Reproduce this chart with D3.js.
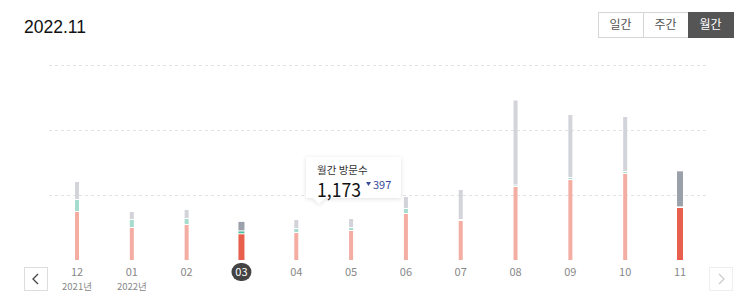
<!DOCTYPE html>
<html><head><meta charset="utf-8">
<script src="https://cdn.jsdelivr.net/npm/d3@7"></script>
<style>
html,body{margin:0;padding:0;background:#fff;}
svg{display:block;}
</style></head>
<body>
<svg id="chart" width="750" height="292"></svg>
<script>
const months = ["12","01","02","03","04","05","06","07","08","09","10","11"];
const yearLabels = {"12":"2021년","01":"2022년"};
const searchVisits = [1477, 985, 1077, 790, 830, 892, 1415, 1200, 2246, 2462, 2646, 1600];
const snsVisits    = [369, 246, 185, 90, 123, 92, 154, 31, 46, 62, 62, 20];
const otherVisits  = [554, 246, 277, 293, 277, 277, 369, 923, 2615, 1938, 1692, 1108];
const gridValues = [2000, 4000, 6000];
const highlighted = ["03","11"];
const selectedMonth = "03";
const tooltipValue = "1,173";
const tooltipDiff = "397";

const svg = d3.select("#chart");
const x = d3.scalePoint().domain(months).range([77, 680]);
const y = d3.scaleLinear().domain([0, 6000]).range([260, 65]);

// title
svg.append("text").attr("x",24).attr("y",33).attr("font-family","Liberation Sans, Arial, sans-serif")
  .attr("font-size",17.5).attr("fill","#111").text("2022.11");

// buttons
const btns = ["일간","주간","월간"];
btns.forEach((b,i)=>{
  const bx = 598 + i*45;
  svg.append("rect").attr("x",bx+0.5).attr("y",12.5).attr("width",45).attr("height",25)
    .attr("fill", i===2?"#555":"#fff").attr("stroke", i===2?"#555":"#d5d5d5");
  svg.append("text").attr("x",bx+22.5).attr("y",29).attr("text-anchor","middle")
    .attr("font-family","Noto Sans CJK KR, sans-serif").attr("font-size",12)
    .attr("fill", i===2?"#fff":"#555").text(b);
});

// gridlines
svg.append("g").selectAll("line").data(gridValues).join("line")
  .attr("x1",49).attr("x2",707).attr("y1",d=>Math.round(y(d))+0.5).attr("y2",d=>Math.round(y(d))+0.5)
  .attr("stroke","#e2e2e2").attr("stroke-width",1).attr("stroke-dasharray","3,3");

// bars
const data = months.map((m,i)=>({m, s:searchVisits[i], n:snsVisits[i], o:otherVisits[i]}));
const colors = {
  normal:{s:"#f4ada2", n:"#a6dccd", o:"#d2d4d9"},
  hi:{s:"#e8604d", n:"#4fbf9c", o:"#9aa1ab"}
};
const gb = svg.append("g");
data.forEach(d=>{
  const isHi = highlighted.includes(d.m);
  const w = isHi?6:4;
  const c = isHi?colors.hi:colors.normal;
  const segs = [["s",0,d.s],["n",d.s,d.s+d.n],["o",d.s+d.n,d.s+d.n+d.o]];
  segs.forEach(([k,a,b],j)=>{
    const y0 = y(a), y1 = y(b);
    let h = y0 - y1 - (j>0?1:0);
    if (h<=0) return;
    gb.append("rect").attr("x",x(d.m)-w/2).attr("y",y1).attr("width",w).attr("height",h).attr("fill",c[k]);
  });
});

// x labels
const gl = svg.append("g").attr("font-family","Noto Sans CJK KR, sans-serif");
months.forEach(m=>{
  if (m===selectedMonth){
    gl.append("rect").attr("x",x(m)-10).attr("y",263).attr("width",20).attr("height",18).attr("rx",9)
      .attr("fill","#444");
    gl.append("text").attr("x",x(m)).attr("y",276).attr("text-anchor","middle").attr("font-size",11)
      .attr("fill","#fff").text(m);
  } else {
    gl.append("text").attr("x",x(m)).attr("y",276).attr("text-anchor","middle").attr("font-size",11)
      .attr("fill","#888").text(m);
  }
  if (yearLabels[m]){
    gl.append("text").attr("x",x(m)).attr("y",290).attr("text-anchor","middle").attr("font-size",9.5)
      .attr("fill","#888").text(yearLabels[m]);
  }
});

// nav buttons
svg.append("rect").attr("x",24.5).attr("y",267.5).attr("width",23).attr("height",23).attr("fill","#fff").attr("stroke","#ddd");
svg.append("path").attr("d","M38,274 L33,279 L38,284").attr("fill","none").attr("stroke","#444").attr("stroke-width",1.3);
svg.append("rect").attr("x",709.5).attr("y",267.5).attr("width",23).attr("height",23).attr("fill","#fff").attr("stroke","#eee");
svg.append("path").attr("d","M719,274 L724,279 L719,284").attr("fill","none").attr("stroke","#ccc").attr("stroke-width",1.3);

// tooltip
const defs = svg.append("defs");
const f = defs.append("filter").attr("id","sh").attr("x","-20%").attr("y","-20%").attr("width","140%").attr("height","160%");
f.append("feDropShadow").attr("dx",0).attr("dy",1).attr("stdDeviation",2).attr("flood-color","#000").attr("flood-opacity",0.12);
const tt = svg.append("g");
tt.append("path").attr("d","M306,157 H401 V198 H325 L319,204 L313,198 H306 Z").attr("fill","#fff").attr("filter","url(#sh)");
tt.append("text").attr("x",317).attr("y",174).attr("font-family","Noto Sans CJK KR, sans-serif").attr("font-size",10.5).attr("fill","#333").text("월간 방문수");
tt.append("text").attr("x",317).attr("y",197).attr("font-family","Noto Sans CJK KR, sans-serif").attr("font-size",19)
  .attr("textLength",44).attr("lengthAdjust","spacingAndGlyphs").attr("fill","#111").text(tooltipValue);
tt.append("path").attr("d","M366,182 L371,182 L368.5,186 Z").attr("fill","#3a4a9a");
tt.append("text").attr("x",373).attr("y",189).attr("font-family","Noto Sans CJK KR, sans-serif").attr("font-size",11).attr("fill","#3a4a9a").text(tooltipDiff);
</script>
</body></html>
